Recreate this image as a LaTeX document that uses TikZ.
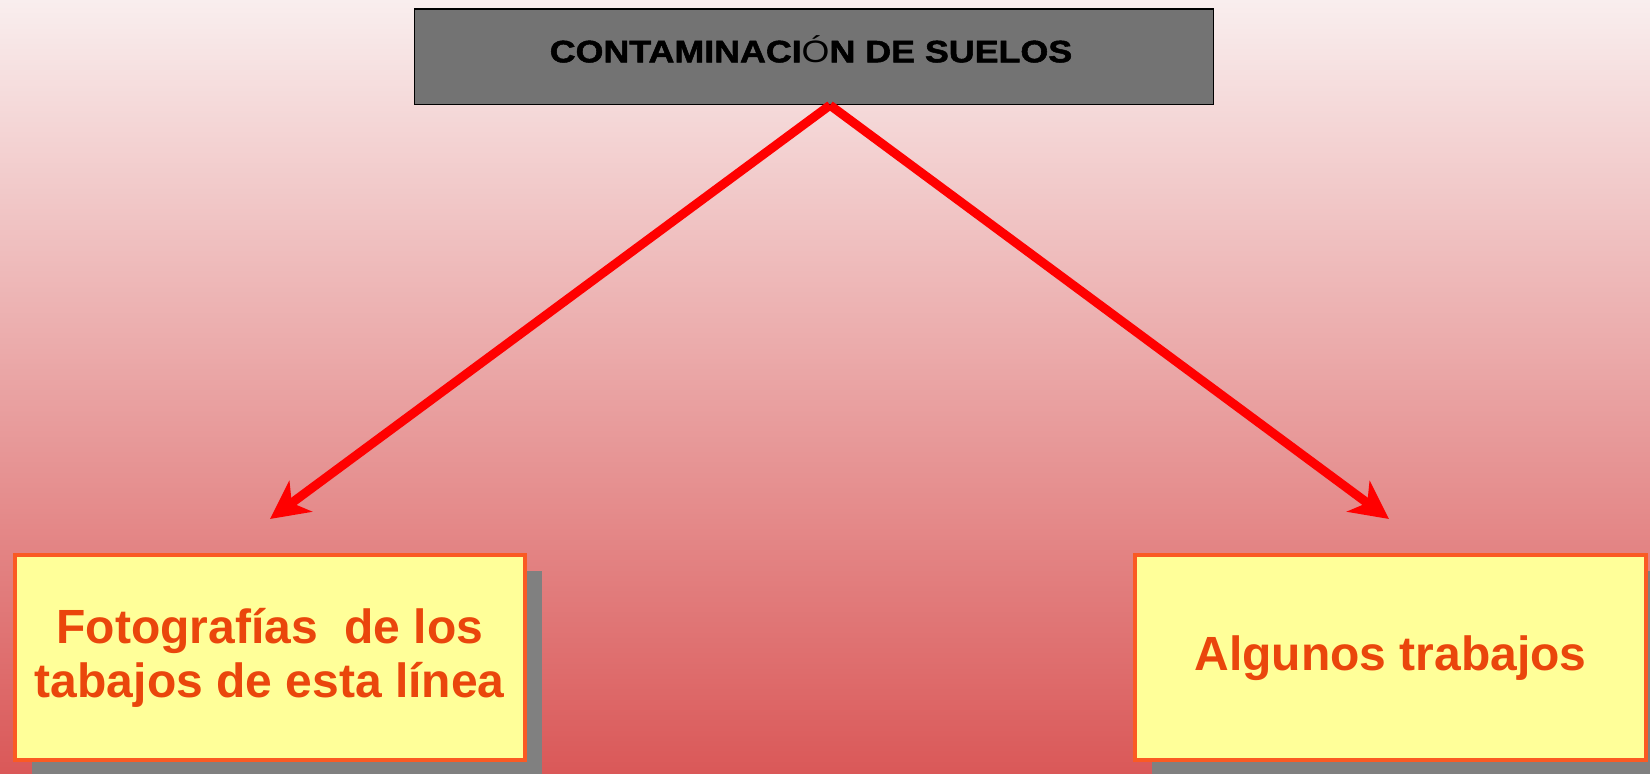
\documentclass[tikz,border=0pt]{standalone}
\usepackage{fontspec}
\setmainfont{Liberation Sans}
\newfontfamily\heavyfont[FakeBold=1.6]{Liberation Sans Bold}
\newfontfamily\plainfont{Liberation Sans}
\usetikzlibrary{arrows.meta,shadows,calc}
\definecolor{bgtop}{RGB}{249,238,238}
\definecolor{bgmid}{RGB}{235,178,178}
\definecolor{bgbot}{RGB}{218,88,88}
\definecolor{boxgray}{RGB}{115,115,115}
\definecolor{noteyellow}{RGB}{255,255,153}
\definecolor{noteborder}{RGB}{250,90,35}
\definecolor{notetext}{RGB}{234,70,12}
\definecolor{shadowgray}{RGB}{128,128,128}
\begin{document}
\begin{tikzpicture}[x=1pt,y=1pt,
  titlebox/.style={draw=black, line width=1.5pt, fill=boxgray, minimum width=799.3pt, minimum height=95.3pt, inner sep=0pt},
  titletext/.style={anchor=base, text=black, font=\fontsize{31}{36}\selectfont\heavyfont},
  notebox/.style={draw=noteborder, line width=4pt, fill=noteyellow, minimum height=204.5pt, inner sep=0pt, align=center, text=notetext, font=\fontsize{48}{54}\selectfont\bfseries, drop shadow={shadow xshift=17pt, shadow yshift=-16pt, fill=shadowgray, opacity=1}},
  link/.style={draw=red, line width=9pt, -{Stealth[length=38pt,width=38pt,inset=11pt]}}]
\shade[top color=bgtop, middle color=bgmid, bottom color=bgbot] (0,0) rectangle (1650,774);
\useasboundingbox (0,0) rectangle (1650,774);
\node[titlebox] (top) at (814,717.2) {};
\node[titletext] (title) at ($(top.center)+(-3,-5.5)$) {\scalebox{1.155}[1]{CONTAMINACI{\plainfont Ó}N DE SUELOS}};
\node[notebox, minimum width=510.5pt] (left) at (269.75,116.25) {Fotografías\ \ de los\\tabajos de esta línea};
\node[notebox, minimum width=511pt] (right) at (1390.5,116.25) {Algunos trabajos};
\coordinate (apex) at ($(top.south)+(16,0)$);
\coordinate (tipL) at ($(left.north)+(0.25,34.5)$);
\coordinate (tipR) at ($(right.north)+(-1.5,34.5)$);
\draw[link] (apex) -- (tipL);
\draw[link] (apex) -- (tipR);
\end{tikzpicture}
\end{document}
